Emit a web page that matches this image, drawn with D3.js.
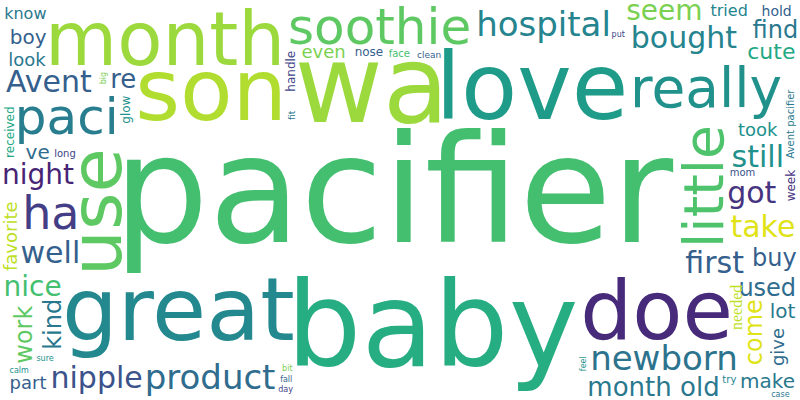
<!DOCTYPE html>
<html><head><meta charset="utf-8">
<script src="https://cdn.jsdelivr.net/npm/d3@7"></script>
<style>body{margin:0;background:#fff}svg{display:block}</style>
</head><body>
<svg id="c" width="800" height="400"></svg>
<script>
// words, relative size, colour position on viridis, vertical?
const words = ["pacifier","baby","wa","love","great","son","doe","good","month","use","mouth","really","little","soothie","paci","ha","hospital","product","newborn","bought","daughter","got","baby love","nipple","first","well","month old","Avent","night","take","much","still","color","nice","seem","thing","design","used","come","kind","work","re","buy","find","cute","make","took","want","boy","always","keep","lot","loved","bottle","love pacifier","perfect","different","part","look","glow dark","needhard","better","hole","think","prefer","give","favorite","size","ve","even","child","clear","help","tried","shape","know","back","using","see","easy clean","go","way","best","ordered","recommend","hold","liked","say","never","handle","easily","sleep","week","kid","nose","spit","plastic","received","glow","wanted","Great product","problem","wish","water","infant","excellent","item","made","pack","baby take","Avent pacifier","daughter love","fine","pretty","finger","long","suck","green","face","mom","style","try","super","happy","able","gift","quality","Nuk","pink","girl","son love","many","something","fit","clean","ands","Best pacifier","sure","teething","enough","trying","take pacifier","bit","fall","case","piece","store","looking","feel","cute","thank","put","day","star","calm","older","lost","binky","big","found","house","material","thought","picture","clip","getting","price","purchased","cower","soft","needed","side","latch","others","issue"];
const sizes = [150,118,108,92,88,86,82,76,74,72,68,55,55,50,50,46,34,34,34,30,30,30,28,30,30,30,26,30,28,30,30,30,30,28,28,28,26,24,24,24,24,26,24,24,22,20,18,20,20,20,20,20,20,18,20,20,20,18,18,16,16,16,18,18,18,18,18,18,20,18,18,18,16,16,18,16,16,16,16,16,16,16,16,14,14,14,14,14,14,12,12,12,12,12,12,12,12,12,12,12,12,12,12,12,12,12,12,12,10,10,10,10,10,10,10,10,10,10,10,10,10,10,10,10,10,10,9,9,9,9,9,9,9,9,9,9,9,8,8,8,8,8,8,8,8,8,8,8,8,8,8,8,8,8,8,8,8,8,8,8,8,8,8,8,8,8,8,8,8];
const tones = [0.7,0.62,0.85,0.55,0.47,0.88,0.12,0.25,0.85,0.75,0.35,0.5,0.72,0.75,0.42,0.18,0.45,0.35,0.38,0.45,0.85,0.15,0.2,0.25,0.3,0.3,0.4,0.3,0.1,0.95,0.4,0.5,0.45,0.7,0.8,0.5,0.15,0.35,0.95,0.4,0.75,0.3,0.3,0.4,0.6,0.4,0.5,0.35,0.3,0.45,0.6,0.4,0.3,0.3,0.5,0.3,0.75,0.3,0.4,0.3,0.4,0.6,0.15,0.2,0.3,0.35,0.9,0.7,0.35,0.8,0.2,0.5,0.6,0.45,0.3,0.4,0.3,0.4,0.6,0.5,0.5,0.3,0.25,0.2,0.45,0.3,0.35,0.2,0.2,0.2,0.6,0.2,0.15,0.3,0.3,0.25,0.4,0.6,0.5,0.3,0.4,0.3,0.25,0.4,0.35,0.3,0.25,0.7,0.3,0.3,0.4,0.5,0.5,0.2,0.3,0.2,0.5,0.4,0.7,0.25,0.3,0.45,0.7,0.2,0.8,0.7,0.7,0.6,0.8,0.4,0.8,0.2,0.3,0.4,0.3,0.7,0.5,0.5,0.3,0.2,0.8,0.4,0.8,0.3,0.4,0.3,0.2,0.8,0.5,0.5,0.3,0.2,0.2,0.2,0.5,0.3,0.9,0.3,0.8,0.3,0.8,0.9,0.5,0.6,0.3,0.5,0.3,0.8,0.6,0.3,0.9,0.7,0.3,0.6,0.4];
const vertical = new Set(["use","little","come","kind","work","different","give","favorite","size","received","glow","clear","Avent pacifier","handle","big","binky","feel","issue","side","others","son love","fit","needed","week"]);

const W = 800, H = 400, pad = 1.5;
const svg = d3.select("#c");
svg.append("rect").attr("width", W).attr("height", H).attr("fill", "#fff");
const ctx = document.createElement("canvas").getContext("2d");
const font = "'DejaVu Sans', sans-serif";
const color = d3.scaleSequential(d3.interpolateViridis).domain([0, 1]);

const placed = [];
const hit = (b) => b.x0 < 1 || b.y0 < 1 || b.x1 > W - 1 || b.y1 > H - 1 ||
  placed.some(p => b.x0 < p.x1 && b.x1 > p.x0 && b.y0 < p.y1 && b.y1 > p.y0);

words.forEach((w, i) => {
  const fs = sizes[i];
  ctx.font = fs + "px " + font;
  const m = ctx.measureText(w);
  const L = m.actualBoundingBoxLeft, R = m.actualBoundingBoxRight;
  const A = m.actualBoundingBoxAscent, D = m.actualBoundingBoxDescent;
  const rot = vertical.has(w);
  const bw = (rot ? A + D : L + R) + 2 * pad, bh = (rot ? L + R : A + D) + 2 * pad;
  const lc = rot ? [(D - A) / 2, (L - R) / 2] : [(R - L) / 2, (D - A) / 2];
  const a0 = i * 2.4;
  for (let t = 0; t < 4000; t += 0.05) {
    const r = 1.2 * t;
    if (r > 700) break;
    const cx = W / 2 + 2 * r * Math.cos(t + a0) * 0.9;
    const cy = H / 2 + r * Math.sin(t + a0) * 0.9;
    const b = {x0: cx - bw / 2, x1: cx + bw / 2, y0: cy - bh / 2, y1: cy + bh / 2};
    if (!hit(b)) {
      placed.push(b);
      svg.append("text")
        .attr("transform", `translate(${cx - lc[0]},${cy - lc[1]})` + (rot ? " rotate(-90)" : ""))
        .style("font", fs + "px " + font)
        .attr("fill", color(tones[i] ?? 0.5))
        .text(w);
      break;
    }
  }
});
</script>
</body></html>
